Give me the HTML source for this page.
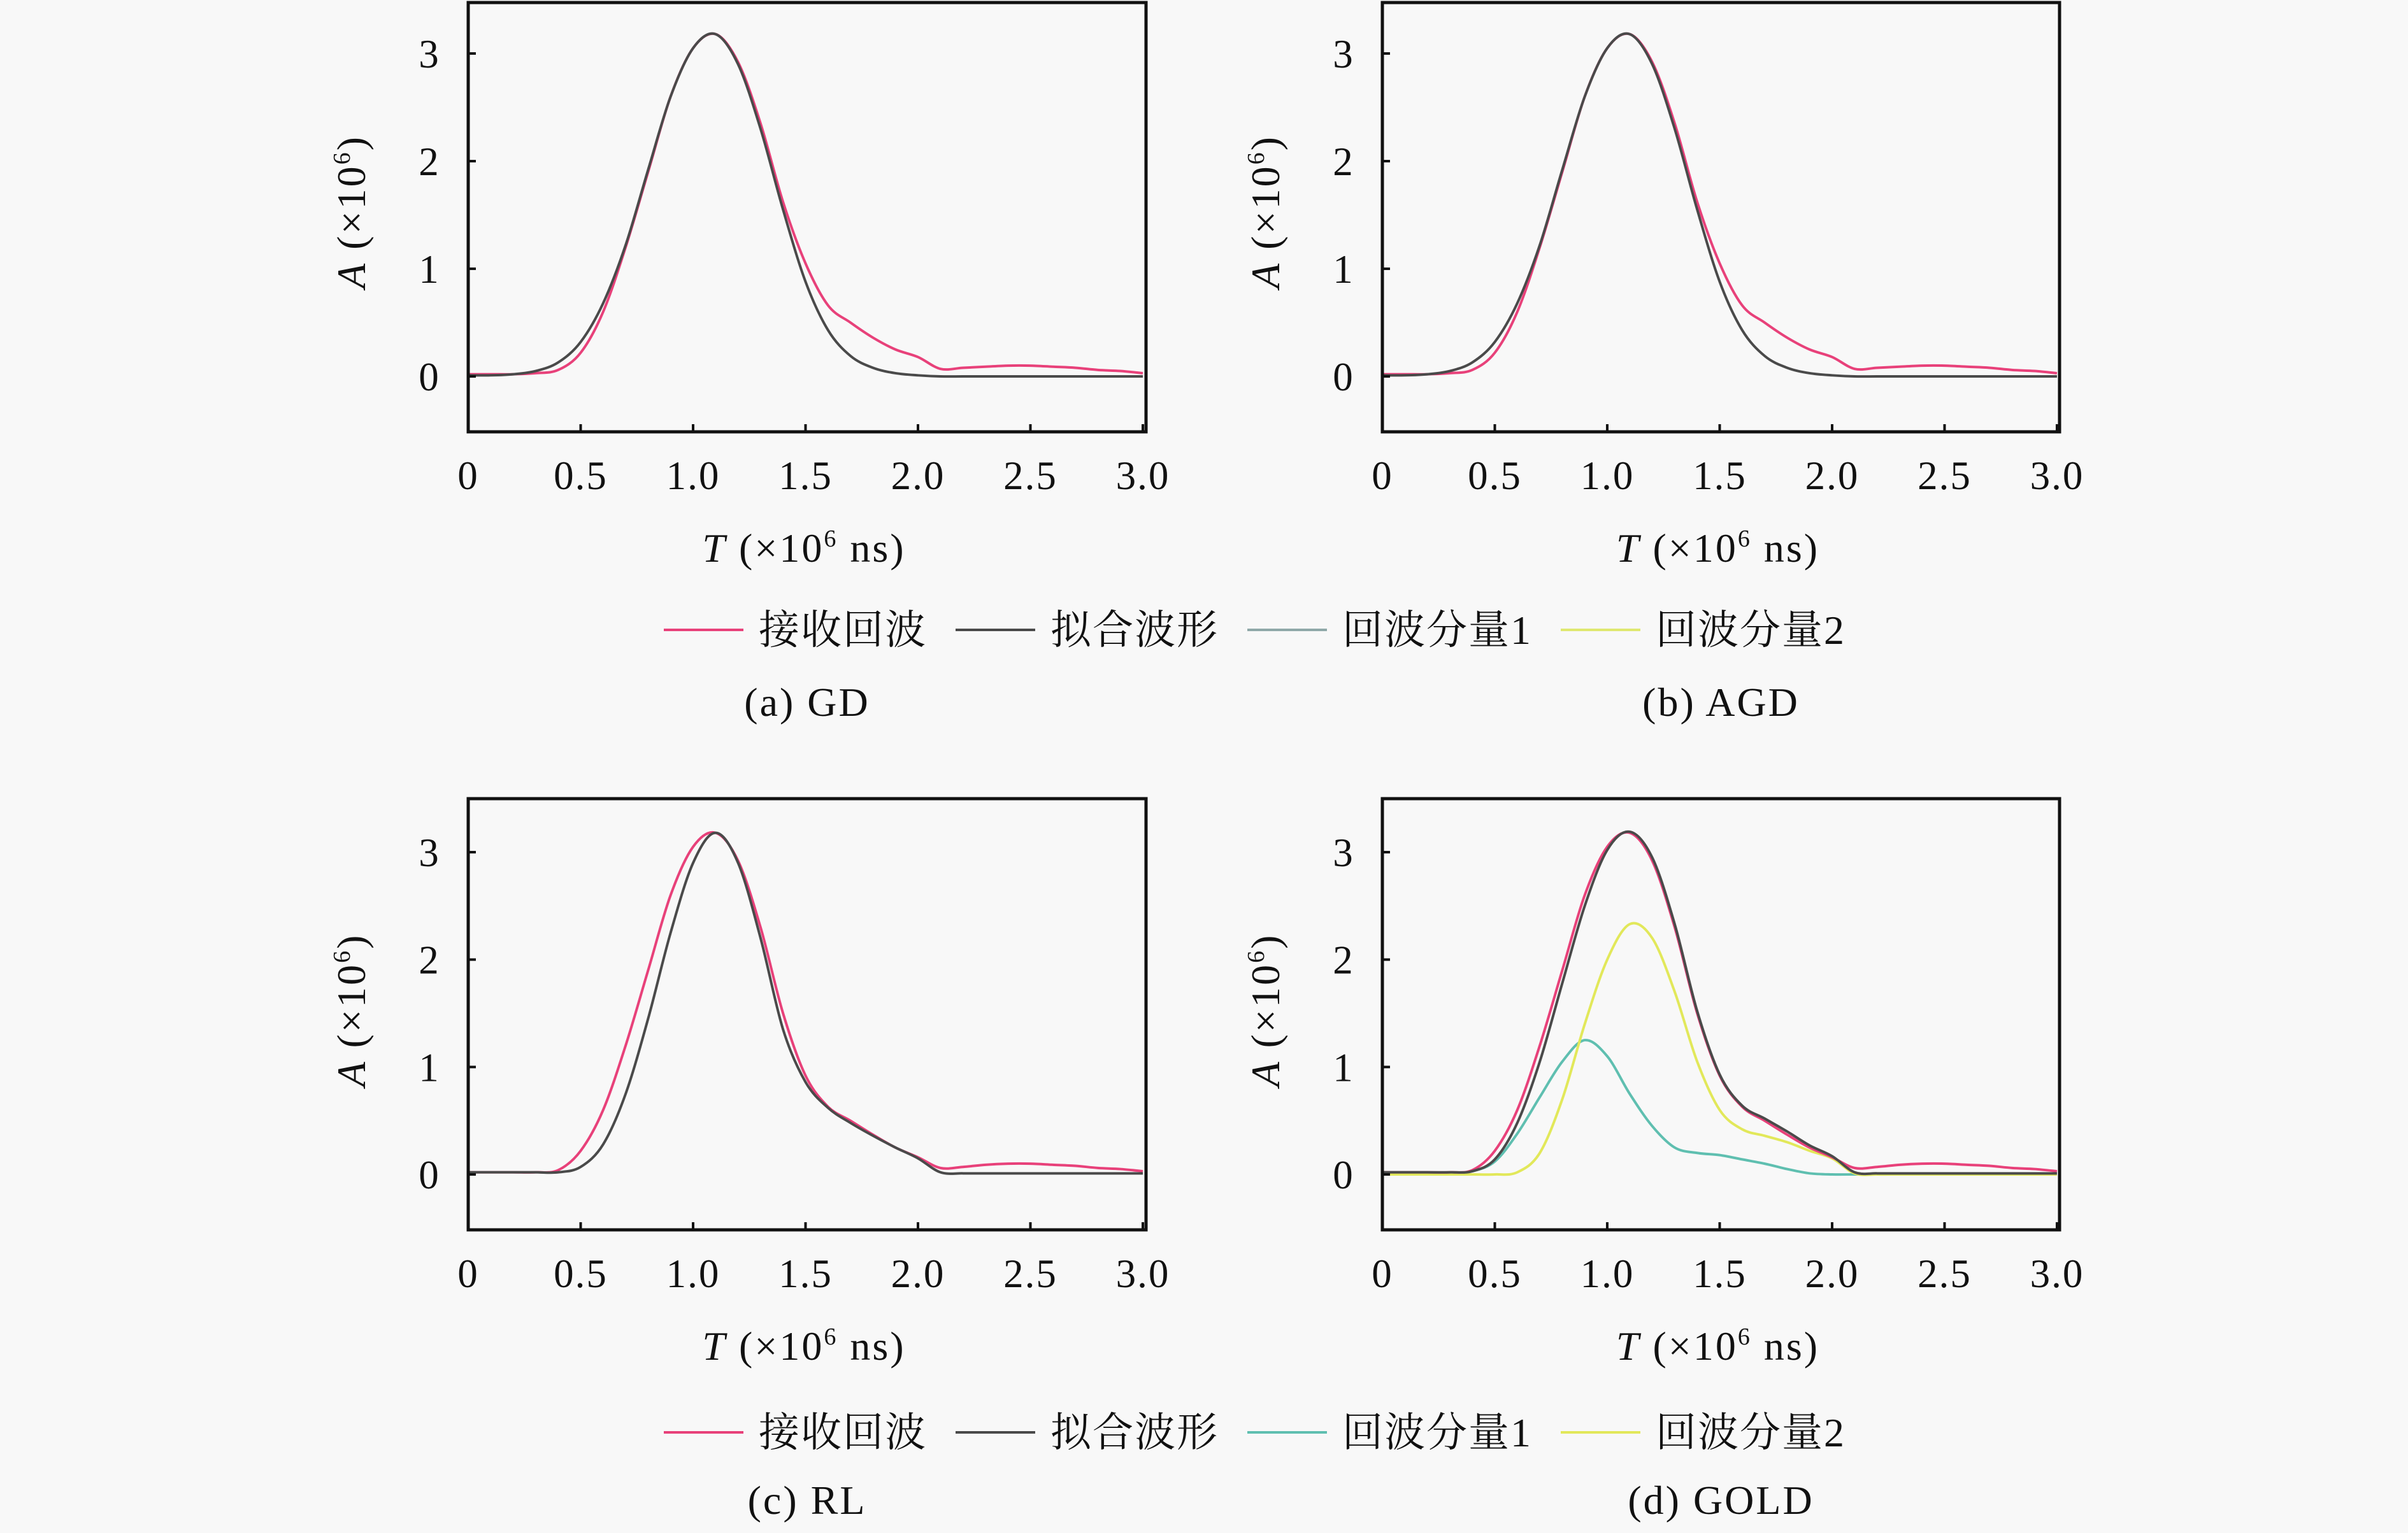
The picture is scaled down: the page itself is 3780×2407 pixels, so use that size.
<!DOCTYPE html>
<html><head><meta charset="utf-8">
<style>
html,body{margin:0;padding:0;background:#f8f8f8;}
svg{display:block;}
text{font-family:"Liberation Serif","Noto Serif CJK SC",serif;fill:#111;}
</style></head>
<body>
<svg id="fig" width="3780" height="2407" viewBox="0 0 3780 2407" xmlns="http://www.w3.org/2000/svg">
<rect x="0" y="0" width="3780" height="2407" fill="#f8f8f8"/>
</svg>
<script>
const xs = [0,0.1,0.2,0.3,0.4,0.5,0.6,0.7,0.8,0.9,1.0,1.1,1.2,1.3,1.4,1.5,1.6,1.7,1.8,1.9,2.0,2.1,2.2,2.3,2.4,2.5,2.6,2.7,2.8,2.9,3.0];
const xTicks = [0,0.5,1.0,1.5,2.0,2.5,3.0];
const xTickLabels = ["0","0.5","1.0","1.5","2.0","2.5","3.0"];
const yTicks = [0,1,2,3];
const yTickLabels = ["0","1","2","3"];
const recvA = [0.02,0.02,0.02,0.03,0.06,0.22,0.6,1.2,1.9,2.6,3.05,3.18,2.92,2.35,1.62,1.05,0.66,0.5,0.36,0.25,0.18,0.07,0.08,0.09,0.1,0.1,0.09,0.08,0.06,0.05,0.03];
const fitA = [0.01,0.01,0.02,0.05,0.13,0.32,0.68,1.22,1.92,2.6,3.05,3.18,2.9,2.3,1.55,0.88,0.43,0.19,0.08,0.03,0.01,0,0,0,0,0,0,0,0,0,0];
const recvC = [0.02,0.02,0.02,0.02,0.04,0.22,0.6,1.2,1.9,2.6,3.05,3.18,2.92,2.3,1.5,0.92,0.63,0.5,0.37,0.25,0.16,0.06,0.07,0.09,0.1,0.1,0.09,0.08,0.06,0.05,0.03];
const fitC = [0.02,0.02,0.02,0.02,0.02,0.07,0.28,0.75,1.45,2.25,2.9,3.18,2.9,2.2,1.35,0.86,0.62,0.48,0.36,0.25,0.15,0.02,0.01,0.01,0.01,0.01,0.01,0.01,0.01,0.01,0.01];
const comp1D = [0.01,0.01,0.01,0.01,0.03,0.12,0.38,0.72,1.05,1.25,1.1,0.75,0.45,0.25,0.2,0.18,0.14,0.1,0.05,0.01,0,0,0,0,0,0,0,0,0,0,0];
const comp2D = [0,0,0,0,0,0,0.02,0.2,0.7,1.4,2.0,2.33,2.2,1.7,1.05,0.6,0.42,0.36,0.3,0.22,0.15,0.01,0,0,0,0,0,0,0,0,0];
const fitD = [0.02,0.02,0.02,0.02,0.03,0.14,0.48,1.05,1.78,2.5,3.02,3.19,2.95,2.33,1.52,0.93,0.64,0.52,0.4,0.27,0.17,0.02,0.01,0.01,0.01,0.01,0.01,0.01,0.01,0.01,0.01];
const legendLabels = ["接收回波","拟合波形","回波分量1","回波分量2"];

const NS="http://www.w3.org/2000/svg";
const svg=document.getElementById('fig');
function mk(tag,attrs,parent){const e=document.createElementNS(NS,tag);for(const k in attrs)e.setAttribute(k,attrs[k]);(parent||svg).appendChild(e);return e;}
function pathFrom(X,Y){let d="";const n=X.length;for(let i=0;i<n-1;i++){const p0=[X[Math.max(i-1,0)],Y[Math.max(i-1,0)]],p1=[X[i],Y[i]],p2=[X[i+1],Y[i+1]],p3=[X[Math.min(i+2,n-1)],Y[Math.min(i+2,n-1)]];if(i===0)d+="M"+p1[0]+","+p1[1];const c1=[p1[0]+(p2[0]-p0[0])/6,p1[1]+(p2[1]-p0[1])/6],c2=[p2[0]-(p3[0]-p1[0])/6,p2[1]-(p3[1]-p1[1])/6];d+="C"+c1[0]+","+c1[1]+" "+c2[0]+","+c2[1]+" "+p2[0]+","+p2[1];}return d;}

const panels=[
 {id:'a',L:735,R:1799,T:4,B:678,x0:735,x3:1794,y0:591,y3:84,cap:"(a) GD",series:[[recvA,'#e8417a'],[fitA,'#4a4a4a']]},
 {id:'b',L:2170,R:3233,T:4,B:678,x0:2170,x3:3229,y0:591,y3:84,cap:"(b) AGD",series:[[recvA,'#e8417a'],[fitA,'#4a4a4a']]},
 {id:'c',L:735,R:1799,T:1254,B:1931,x0:735,x3:1794,y0:1844,y3:1338,cap:"(c) RL",series:[[recvC,'#e8417a'],[fitC,'#4a4a4a']]},
 {id:'d',L:2170,R:3233,T:1254,B:1931,x0:2170,x3:3229,y0:1844,y3:1338,cap:"(d) GOLD",series:[[comp1D,'#5fbfb0'],[comp2D,'#e2e85a'],[recvC,'#e8417a'],[fitD,'#4a4a4a']]}
];
const names={'#e8417a':'received-echo','#4a4a4a':'fitted-waveform','#5fbfb0':'echo-component-1','#e2e85a':'echo-component-2'};
panels.forEach(p=>{
 const g=mk('g',{});
 
 
 const sx=v=>p.x0+(p.x3-p.x0)*v/3, sy=v=>p.y0+(p.y3-p.y0)*v/3;
 p.series.forEach(s=>{
  const path=mk('path',{d:pathFrom(xs.map(sx),s[0].map(sy)),fill:'none',stroke:s[1],'stroke-width':4,'stroke-linejoin':'round'},g);
  
  
 });
 const box=mk('rect',{x:p.L,y:p.T,width:p.R-p.L,height:p.B-p.T,fill:'none',stroke:'#111','stroke-width':5},g);
 
 
 xTicks.forEach((t,i)=>{
  mk('line',{x1:sx(t),x2:sx(t),y1:p.B,y2:p.B-12,stroke:'#111','stroke-width':4},g);
  const tx=mk('text',{x:sx(t),y:p.B+90,'font-size':63,'text-anchor':'middle','letter-spacing':2},g);
  tx.textContent=xTickLabels[i];
  
  
 });
 yTicks.forEach((t,i)=>{
  mk('line',{x1:p.L,x2:p.L+12,y1:sy(t),y2:sy(t),stroke:'#111','stroke-width':4},g);
  const tx=mk('text',{x:p.L-62,y:sy(t)+22,'font-size':63,'text-anchor':'middle'},g);
  tx.textContent=yTickLabels[i];
  
  
 });
 const cx=(p.L+p.R)/2;
 const xt=mk('text',{x:cx-5,y:p.B+204,'font-size':64,'text-anchor':'middle','letter-spacing':3},g);
 xt.innerHTML='<tspan font-style="italic">T</tspan> (×10<tspan font-size="38" dy="-24">6</tspan><tspan dy="24"> ns)</tspan>';
 
 
 const ymid=(p.y0+p.y3)/2-5;
 const yt=mk('text',{x:0,y:0,'font-size':64,'text-anchor':'middle','letter-spacing':3,transform:'translate('+(p.L-162)+','+ymid+') rotate(-90)'},g);
 yt.innerHTML='<tspan font-style="italic">A</tspan> (×10<tspan font-size="38" dy="-24">6</tspan><tspan dy="24">)</tspan>';
 
 
 const cp=mk('text',{x:cx,y:p.B+446,'font-size':64,'text-anchor':'middle','letter-spacing':3},g);
 cp.textContent=p.cap;
 
 
});
const legends=[{y:989,cols:['#e8417a','#4a4a4a','#8fa8a8','#dfe870']},{y:2249,cols:['#e8417a','#4a4a4a','#5fbfb0','#e2e85a']}];
const lx=[1042,1500,1958,2450];
legends.forEach((L,li)=>{
 const g=mk('g',{});
 
 
 legendLabels.forEach((lab,i)=>{
  const e=mk('g',{},g);
  
  
  mk('line',{x1:lx[i],x2:lx[i]+125,y1:L.y,y2:L.y,stroke:L.cols[i],'stroke-width':4},e);
  const t=mk('text',{x:lx[i]+149,y:L.y+22,'font-size':64,'letter-spacing':2},e);
  t.textContent=lab;
 });
});
</script>
</body></html>
